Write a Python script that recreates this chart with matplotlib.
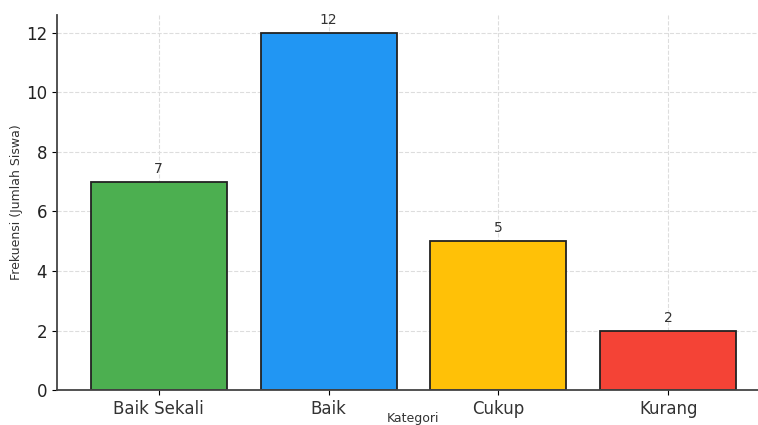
import matplotlib
matplotlib.use('Agg')
import matplotlib.pyplot as plt
import numpy as np

categories = ['Baik Sekali', 'Baik', 'Cukup', 'Kurang']
counts = [7, 12, 5, 2]
colors = ['#4CAF50', '#2196F3', '#FFC107', '#F44336']

fig = plt.figure(figsize=(7.58, 4.25), dpi=100)
ax = fig.add_axes([0.075, 0.082, 0.941, 0.883])

x = np.arange(len(categories))
bars = ax.bar(x, counts, width=0.8, color=colors, edgecolor='#222222', linewidth=1.3, zorder=2)
for b, v in zip(bars, counts):
    ax.text(b.get_x() + b.get_width() / 2, v + 0.2, str(v), ha='center', va='bottom',
            fontsize=10, color='#333333')

ax.set_xticks(x)
ax.set_xticklabels(categories, fontsize=12, color='#333333')
ax.tick_params(axis='y', labelsize=12, labelcolor='#222222')
ax.set_xlim(-0.6, 3.6)
ax.set_ylim(0, 12.6)
ax.set_yticks([0, 2, 4, 6, 8, 10, 12])
ax.set_xlabel('Kategori', fontsize=9, color='#333333', labelpad=-4)
ax.set_ylabel('Frekuensi (Jumlah Siswa)', fontsize=9, color='#333333', labelpad=2)
ax.grid(True, linestyle='--', color='#dddddd', linewidth=0.8, zorder=0)
ax.set_axisbelow(True)
for s in ['top', 'right']:
    ax.spines[s].set_visible(False)
for s in ['left', 'bottom']:
    ax.spines[s].set_color('#444444')
    ax.spines[s].set_linewidth(1.3)

fig.savefig('out.png', dpi=100)
